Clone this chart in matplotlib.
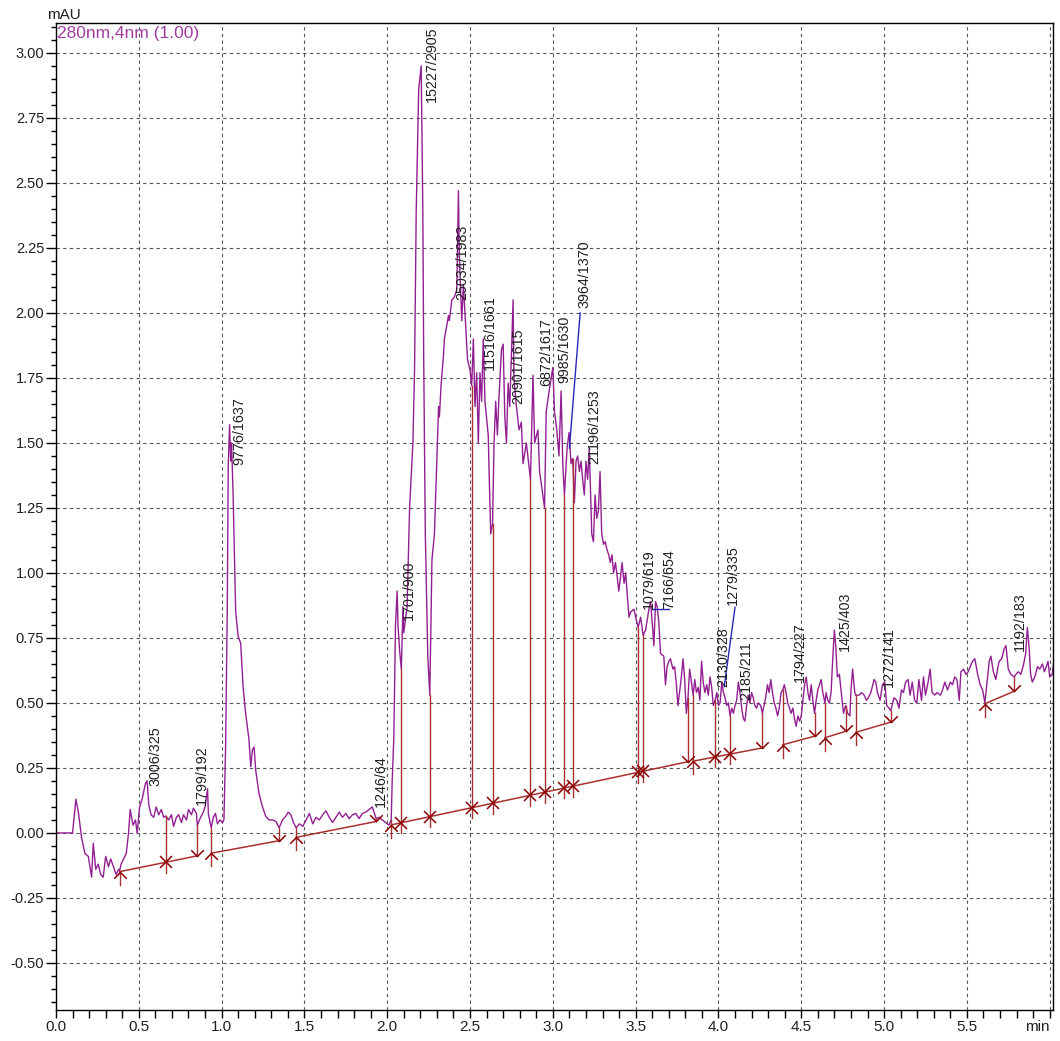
import numpy as np
import matplotlib
matplotlib.use("Agg")
import matplotlib.pyplot as plt
from matplotlib.path import Path
from matplotlib.ticker import MultipleLocator

plt.rcParams['font.family'] = ['Liberation Sans', 'DejaVu Sans']

# chromatogram trace (min, mAU)
time_min = [
    0.00, 0.10, 0.12, 0.135, 0.155, 0.175, 0.195, 0.215, 0.225, 0.24, 0.255, 0.27, 0.285, 0.30,
    0.317, 0.33, 0.347, 0.363, 0.378, 0.384, 0.393, 0.408, 0.424, 0.438, 0.448, 0.465, 0.48, 0.49,
    0.505, 0.52, 0.54, 0.55, 0.56, 0.574, 0.59, 0.605, 0.62, 0.636, 0.65, 0.663, 0.68, 0.697,
    0.71, 0.727, 0.74, 0.758, 0.77, 0.788, 0.80, 0.818, 0.83, 0.848, 0.853, 0.873, 0.89, 0.90,
    0.915, 0.92, 0.937, 0.95, 0.963, 0.975, 0.99, 1.005, 1.014, 1.024, 1.034, 1.040, 1.048, 1.055,
    1.060, 1.069, 1.075, 1.085, 1.10, 1.115, 1.13, 1.145, 1.165, 1.176, 1.186, 1.196, 1.206, 1.226,
    1.247, 1.267, 1.287, 1.307, 1.327, 1.347, 1.368, 1.388, 1.402, 1.418, 1.434, 1.45, 1.47, 1.49,
    1.51, 1.53, 1.55, 1.57, 1.59, 1.61, 1.63, 1.65, 1.67, 1.69, 1.71, 1.73, 1.75, 1.77,
    1.79, 1.81, 1.83, 1.85, 1.87, 1.89, 1.91, 1.933, 1.95, 1.97, 1.99, 2.01, 2.024, 2.03,
    2.04, 2.05, 2.06, 2.065, 2.075, 2.085, 2.095, 2.10, 2.12, 2.135, 2.155, 2.165, 2.175, 2.19,
    2.205, 2.215, 2.22, 2.23, 2.245, 2.257, 2.27, 2.285, 2.30, 2.31, 2.315, 2.325, 2.34, 2.345,
    2.37, 2.375, 2.39, 2.405, 2.42, 2.43, 2.435, 2.45, 2.46, 2.465, 2.485, 2.50, 2.51, 2.52,
    2.53, 2.54, 2.55, 2.56, 2.57, 2.58, 2.59, 2.61, 2.615, 2.625, 2.636, 2.645, 2.655, 2.665,
    2.675, 2.69, 2.70, 2.71, 2.72, 2.73, 2.74, 2.75, 2.76, 2.765, 2.78, 2.796, 2.81, 2.82,
    2.84, 2.865, 2.88, 2.89, 2.91, 2.92, 2.95, 2.96, 2.98, 3.00, 3.01, 3.024, 3.037, 3.05,
    3.06, 3.07, 3.086, 3.098, 3.11, 3.12, 3.13, 3.14, 3.15, 3.16, 3.17, 3.18, 3.19, 3.20,
    3.21, 3.22, 3.235, 3.245, 3.255, 3.265, 3.275, 3.285, 3.295, 3.306, 3.316, 3.327, 3.337, 3.347,
    3.357, 3.367, 3.378, 3.388, 3.398, 3.408, 3.418, 3.43, 3.44, 3.45, 3.46, 3.47, 3.49, 3.50,
    3.515, 3.53, 3.545, 3.56, 3.58, 3.59, 3.60, 3.61, 3.62, 3.63, 3.64, 3.65, 3.67, 3.68,
    3.69, 3.70, 3.71, 3.725, 3.735, 3.745, 3.755, 3.765, 3.776, 3.786, 3.796, 3.806, 3.816, 3.826,
    3.837, 3.847, 3.857, 3.867, 3.878, 3.888, 3.898, 3.908, 3.918, 3.929, 3.939, 3.949, 3.959, 3.969,
    3.98, 3.99, 4.00, 4.01, 4.02, 4.03, 4.04, 4.05, 4.06, 4.07, 4.08, 4.09, 4.10, 4.11,
    4.12, 4.13, 4.14, 4.15, 4.16, 4.17, 4.18, 4.19, 4.20, 4.21, 4.22, 4.23, 4.24, 4.255,
    4.265, 4.275, 4.285, 4.296, 4.306, 4.316, 4.326, 4.337, 4.347, 4.357, 4.367, 4.378, 4.388, 4.398,
    4.408, 4.418, 4.429, 4.439, 4.449, 4.459, 4.469, 4.48, 4.49, 4.50, 4.51, 4.52, 4.53, 4.54,
    4.55, 4.56, 4.57, 4.58, 4.59, 4.60, 4.62, 4.63, 4.643, 4.65, 4.66, 4.67, 4.68, 4.69,
    4.70, 4.708, 4.718, 4.73, 4.74, 4.755, 4.768, 4.78, 4.794, 4.80, 4.81, 4.823, 4.829, 4.85,
    4.863, 4.88, 4.893, 4.905, 4.92, 4.94, 4.95, 4.96, 4.976, 4.99, 5.004, 5.016, 5.03, 5.04,
    5.06, 5.077, 5.09, 5.105, 5.117, 5.13, 5.145, 5.157, 5.17, 5.185, 5.198, 5.21, 5.226, 5.238,
    5.25, 5.266, 5.278, 5.29, 5.306, 5.32, 5.34, 5.353, 5.367, 5.383, 5.40, 5.413, 5.427, 5.44,
    5.454, 5.464, 5.48, 5.494, 5.508, 5.52, 5.534, 5.548, 5.565, 5.58, 5.595, 5.609, 5.62, 5.635,
    5.645, 5.66, 5.675, 5.685, 5.695, 5.71, 5.726, 5.736, 5.75, 5.766, 5.786, 5.796, 5.81, 5.826,
    5.843, 5.855, 5.865, 5.875, 5.885, 5.895, 5.91, 5.927, 5.94, 5.956, 5.968, 5.98, 5.99, 6.00,
    6.016, 6.03,
]
signal_mau = [
    0.00, 0.00, 0.13, 0.08, -0.02, -0.08, -0.09, -0.17, -0.04, -0.14, -0.12, -0.16, -0.17, -0.09,
    -0.13, -0.10, -0.13, -0.16, -0.14, -0.145, -0.12, -0.10, -0.08, 0.00, 0.09, 0.03, 0.05, 0.00,
    0.10, 0.13, 0.19, 0.20, 0.11, 0.07, 0.06, 0.10, 0.07, 0.09, 0.06, 0.065, 0.05, 0.07,
    0.025, 0.06, 0.07, 0.04, 0.07, 0.05, 0.09, 0.07, 0.095, 0.075, 0.03, 0.06, 0.08, 0.10,
    0.17, 0.075, 0.02, 0.06, 0.075, 0.035, 0.05, 0.04, 0.05, 0.33, 0.85, 1.41, 1.57, 1.43,
    1.50, 1.31, 1.13, 0.85, 0.755, 0.73, 0.56, 0.46, 0.36, 0.255, 0.32, 0.33, 0.24, 0.15,
    0.10, 0.063, 0.05, 0.05, 0.045, 0.02, 0.05, 0.065, 0.08, 0.07, 0.04, 0.02, 0.035, 0.025,
    0.05, 0.075, 0.035, 0.06, 0.05, 0.07, 0.085, 0.06, 0.04, 0.06, 0.08, 0.06, 0.075, 0.055,
    0.07, 0.075, 0.055, 0.075, 0.08, 0.09, 0.10, 0.055, 0.06, 0.05, 0.04, 0.03, 0.05, 0.20,
    0.37, 0.80, 0.93, 0.80, 0.70, 0.63, 0.87, 0.77, 0.87, 1.25, 1.50, 1.78, 2.39, 2.86,
    2.95, 2.39, 1.84, 1.15, 0.68, 0.53, 1.05, 1.15, 1.45, 1.64, 1.60, 1.72, 1.84, 1.90,
    1.99, 1.97, 2.05, 2.06, 2.09, 2.47, 2.23, 1.97, 2.11, 2.05, 1.82, 1.78, 1.72, 1.90,
    1.64, 1.77, 1.50, 1.77, 1.66, 1.90, 1.66, 1.53, 1.39, 1.15, 1.19, 1.50, 1.66, 1.53,
    1.68, 1.86, 1.88, 1.60, 1.50, 1.73, 1.64, 1.84, 2.05, 1.75, 1.64, 1.55, 1.58, 1.42,
    1.50, 1.36, 1.76, 1.50, 1.55, 1.39, 1.25, 1.62, 1.71, 1.79, 1.62, 1.55, 1.45, 1.70,
    1.42, 1.30, 1.48, 1.54, 1.42, 1.44, 1.27, 1.43, 1.45, 1.39, 1.43, 1.36, 1.30, 1.43,
    1.36, 1.48, 1.15, 1.12, 1.30, 1.21, 1.24, 1.39, 1.15, 1.11, 1.12, 1.09, 1.07, 1.04,
    1.07, 1.00, 1.04, 0.99, 0.93, 0.98, 1.04, 0.96, 1.00, 0.91, 0.83, 0.85, 0.86, 0.83,
    0.79, 0.83, 0.76, 0.78, 0.86, 0.89, 0.81, 0.72, 0.89, 0.87, 0.81, 0.69, 0.68, 0.57,
    0.64, 0.66, 0.67, 0.63, 0.64, 0.58, 0.49, 0.54, 0.60, 0.67, 0.59, 0.46, 0.52, 0.63,
    0.58, 0.53, 0.59, 0.54, 0.56, 0.51, 0.66, 0.58, 0.54, 0.57, 0.53, 0.60, 0.56, 0.49,
    0.51, 0.54, 0.49, 0.50, 0.58, 0.54, 0.52, 0.49, 0.50, 0.45, 0.48, 0.46, 0.49, 0.51,
    0.58, 0.54, 0.48, 0.44, 0.43, 0.49, 0.53, 0.50, 0.54, 0.52, 0.49, 0.48, 0.50, 0.49,
    0.46, 0.49, 0.52, 0.57, 0.54, 0.59, 0.54, 0.50, 0.48, 0.45, 0.48, 0.54, 0.55, 0.57,
    0.54, 0.50, 0.48, 0.46, 0.48, 0.44, 0.41, 0.45, 0.43, 0.45, 0.51, 0.57, 0.60, 0.54,
    0.51, 0.57, 0.51, 0.46, 0.51, 0.55, 0.59, 0.54, 0.50, 0.54, 0.51, 0.50, 0.54, 0.67,
    0.78, 0.72, 0.60, 0.61, 0.55, 0.46, 0.49, 0.46, 0.45, 0.55, 0.63, 0.54, 0.53, 0.53,
    0.54, 0.53, 0.51, 0.52, 0.54, 0.59, 0.58, 0.54, 0.51, 0.57, 0.58, 0.49, 0.48, 0.47,
    0.52, 0.51, 0.48, 0.55, 0.54, 0.58, 0.59, 0.53, 0.58, 0.51, 0.50, 0.59, 0.51, 0.60,
    0.53, 0.58, 0.63, 0.54, 0.53, 0.54, 0.53, 0.55, 0.58, 0.55, 0.58, 0.57, 0.60, 0.59,
    0.51, 0.62, 0.63, 0.61, 0.62, 0.64, 0.66, 0.67, 0.61, 0.57, 0.55, 0.50, 0.57, 0.66,
    0.68, 0.62, 0.59, 0.63, 0.66, 0.67, 0.71, 0.72, 0.63, 0.61, 0.60, 0.61, 0.62, 0.61,
    0.65, 0.69, 0.79, 0.72, 0.61, 0.58, 0.60, 0.64, 0.63, 0.65, 0.62, 0.64, 0.66, 0.60,
    0.61, 0.69,
]

# integration baselines: start/end time and level
base_t0 = [0.384, 0.937, 1.450, 2.024, 3.847, 4.388, 4.643, 4.829, 5.609]
base_v0 = [-0.149, -0.078, -0.017, 0.031, 0.276, 0.339, 0.366, 0.387, 0.497]
base_t1 = [0.853, 1.347, 1.933, 3.816, 4.265, 4.580, 4.768, 5.040, 5.786]
base_v1 = [-0.088, -0.030, 0.044, 0.274, 0.327, 0.372, 0.391, 0.426, 0.545]

# perpendicular drop (peak split) times
split_t = [0.663, 2.085, 2.257, 2.51, 2.636, 2.865, 2.95, 3.07, 3.12, 3.515, 3.545, 3.98, 4.07]

# tangent skim lines drawn in blue
skim_t0 = [3.100, 4.035, 3.600]
skim_v0 = [1.480, 0.563, 0.860]
skim_t1 = [3.165, 4.100, 3.700]
skim_v1 = [2.000, 0.868, 0.860]

# peak labels (area/height)
label_text = ["3006/325", "1799/192", "9776/1637", "1246/64", "1701/900", "15227/2905",
              "25034/1983", "11516/1661", "20901/1615", "6872/1617", "9985/1630", "3964/1370",
              "21196/1253", "1079/619", "7166/654", "2130/328", "1279/335", "2185/211",
              "1794/227", "1425/403", "1272/141", "1192/183"]
label_t = [0.60, 0.88, 1.11, 1.96, 2.13, 2.267, 2.455, 2.62, 2.79, 2.96, 3.07, 3.19,
           3.25, 3.58, 3.70, 4.03, 4.09, 4.17, 4.49, 4.765, 5.03, 5.82]
label_v = [0.18, 0.108, 1.415, 0.10, 0.82, 2.81, 2.05, 1.78, 1.65, 1.72, 1.73, 2.02,
           1.42, 0.86, 0.86, 0.56, 0.877, 0.51, 0.58, 0.70, 0.56, 0.70]

x_ticks = [0.0, 0.5, 1.0, 1.5, 2.0, 2.5, 3.0, 3.5, 4.0, 4.5, 5.0, 5.5, 6.0]
x_tick_labels = ["0.0", "0.5", "1.0", "1.5", "2.0", "2.5", "3.0", "3.5", "4.0", "4.5", "5.0", "5.5", "min"]
y_ticks = [-0.50, -0.25, 0.00, 0.25, 0.50, 0.75, 1.00, 1.25, 1.50, 1.75, 2.00, 2.25, 2.50, 2.75, 3.00]

TRACE = '#921f92'
BASE = '#a83030'
MARK = '#8b0000'

W, H = 1060, 1041
fig = plt.figure(figsize=(W / 100, H / 100), dpi=100)
ax = fig.add_axes([56 / W, 1 - 1010 / H, (1053 - 56) / W, (1010 - 23) / H])


def base_at(t):
    for a, va, b, vb in zip(base_t0, base_v0, base_t1, base_v1):
        if a - 1e-9 <= t <= b + 1e-9:
            return va + (vb - va) * (t - a) / (b - a)
    return None


up_arrow = Path([(-1, -1), (0, 0), (1, -1)], [Path.MOVETO, Path.LINETO, Path.LINETO])
down_arrow = Path([(-1, 1), (0, 0), (1, 1)], [Path.MOVETO, Path.LINETO, Path.LINETO])

t_arr = np.array(time_min)
v_arr = np.array(signal_mau)

# baselines
for a, va, b, vb in zip(base_t0, base_v0, base_t1, base_v1):
    ax.plot([a, b], [va, vb], color=BASE, lw=1.1, zorder=3)

# drop lines and event marks
for t in base_t0:
    bv = base_at(t)
    sv = np.interp(t, t_arr, v_arr)
    ax.plot([t, t], [bv - 0.05, max(sv, bv)], color=BASE, lw=1, zorder=3)
    ax.plot(t, bv, marker=up_arrow, ms=9, mfc='none', mec=MARK, mew=1.1, zorder=4)
for t in base_t1:
    bv = base_at(t)
    sv = np.interp(t, t_arr, v_arr)
    ax.plot([t, t], [bv, max(sv, bv)], color=BASE, lw=1, zorder=3)
    ax.plot(t, bv, marker=down_arrow, ms=9, mfc='none', mec=MARK, mew=1.1, zorder=4)
for t in split_t:
    bv = base_at(t)
    sv = np.interp(t, t_arr, v_arr)
    ax.plot([t, t], [bv - 0.04, sv], color=BASE, lw=1, zorder=3)
    ax.plot(t, bv, marker='x', ms=8, mec=MARK, mew=1.1, zorder=4)

# tangent skims
for a, va, b, vb in zip(skim_t0, skim_v0, skim_t1, skim_v1):
    ax.plot([a, b], [va, vb], color='#2828b4', lw=1, zorder=3)

ax.plot(t_arr, v_arr, color=TRACE, lw=1, zorder=2)

for s, t, v in zip(label_text, label_t, label_v):
    ax.text(t, v, s, rotation=90, ha='center', va='bottom', fontsize=10.3,
            color='#202020', zorder=5)

ax.text(0.001, 0.997, "280nm,4nm (1.00)", transform=ax.transAxes, ha='left', va='top',
        fontsize=12.5, color='#a03ca0')
fig.text(64 / W, 1 - 15 / H, "mAU", ha='center', va='center', fontsize=11, color='#202020')

ax.set_xlim(0, 6.02)
ax.set_ylim(-0.681, 3.115)
ax.set_xticks(x_ticks)
ax.set_xticklabels(x_tick_labels, fontsize=11)
ax.get_xticklabels()[-1].set_horizontalalignment('right')
ax.set_yticks(y_ticks)
ax.set_yticklabels(["%.2f" % y for y in y_ticks])
ax.xaxis.set_minor_locator(MultipleLocator(0.1))
ax.yaxis.set_minor_locator(MultipleLocator(0.05))
ax.tick_params(axis='y', which='major', direction='out', length=7, width=1, pad=1.5,
               labelsize=10.5, labelcolor='#202020')
ax.tick_params(axis='y', which='minor', direction='out', length=3.5, width=1)
ax.tick_params(axis='x', which='both', direction='out', length=5.5, width=1, pad=1.5,
               labelcolor='#202020')
ax.grid(True, which='major', color='#555555', linestyle=(0, (3, 3)), lw=0.8)
for sp in ax.spines.values():
    sp.set_color('black')
    sp.set_linewidth(1)

fig.savefig("out.png", dpi=100)
